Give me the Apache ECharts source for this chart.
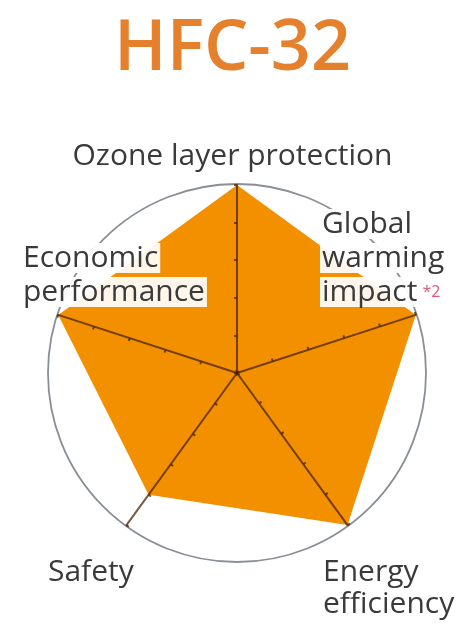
<!DOCTYPE html>
<html>
<head>
<meta charset="utf-8">
<script src="https://cdn.jsdelivr.net/npm/echarts@6/dist/echarts.min.js"></script>
<style>
  html, body { margin: 0; padding: 0; background: #ffffff; }
  #chart { width: 465px; height: 628px; }
</style>
</head>
<body>
<div id="chart"></div>
<script>
// Refrigerant profile: five criteria, scored 0-5 (higher is better)
const titleText = 'HFC-32';
const indicatorNames = ['Ozone layer protection', 'Economic performance', 'Safety', 'Energy efficiency', 'Global warming impact'];
const scoreMax = 5;
const scores = [5, 5, 4, 5, 5];

const chart = echarts.init(document.getElementById('chart'));

const labelFont = '"Open Sans", "DejaVu Sans", sans-serif';
const labelColor = '#3a3a3a';
const boxed = {
  font: '30px ' + labelFont, fill: labelColor, lineHeight: 34,
  backgroundColor: 'rgba(255,255,255,0.92)', padding: [0, 2]
};

chart.setOption({
  backgroundColor: '#ffffff',
  title: {
    text: titleText,
    left: 'center',
    top: 10,
    textStyle: {
      color: '#E5802C',
      fontSize: 70,
      fontWeight: 600,
      fontFamily: labelFont
    }
  },
  radar: {
    center: [237, 373],
    radius: 188,
    shape: 'circle',
    splitNumber: 5,
    indicator: indicatorNames.map(function (n) { return { name: n, max: scoreMax }; }),
    axisName: { show: false },
    splitLine: { show: false },
    splitArea: { show: false },
    axisLine: { show: true, lineStyle: { color: 'rgba(75,35,10,0.75)', width: 2 } },
    axisTick: { show: true, length: 3, lineStyle: { color: 'rgba(75,35,10,0.75)', width: 2 } },
    z: 3
  },
  series: [{
    type: 'radar',
    symbol: 'none',
    z: 1,
    lineStyle: { width: 0 },
    areaStyle: { color: '#F39000', opacity: 1 },
    data: [{ value: scores, name: titleText }]
  }],
  graphic: [
    // outer boundary circle
    {
      type: 'circle',
      shape: { cx: 237, cy: 373, r: 189 },
      style: { fill: 'none', stroke: '#8a8f96', lineWidth: 1.8 },
      z: 0
    },
    {
      type: 'text', left: 'center', top: 141, z: 10,
      style: { text: indicatorNames[0], font: '500 30px ' + labelFont, fill: labelColor }
    },
    {
      type: 'text', left: 21, top: 243, z: 10,
      style: {
        rich: { b: boxed },
        text: '{b|Economic}\n{b|performance}'
      }
    },
    {
      type: 'text', left: 320, top: 209, z: 10,
      style: {
        rich: {
          b: boxed,
          s: { font: '16px ' + labelFont, fill: '#e0557a', padding: [0, 0, 0, 3] }
        },
        text: '{b|Global}\n{b|warming}\n{b|impact}{s|*2}'
      }
    },
    {
      type: 'text', left: 48, top: 557, z: 10,
      style: { text: indicatorNames[2], font: '30px ' + labelFont, fill: labelColor }
    },
    {
      type: 'text', left: 323, top: 556, z: 10,
      style: { text: 'Energy\nefficiency', font: '30px ' + labelFont, fill: labelColor, lineHeight: 32 }
    }
  ]
});
</script>
</body>
</html>
